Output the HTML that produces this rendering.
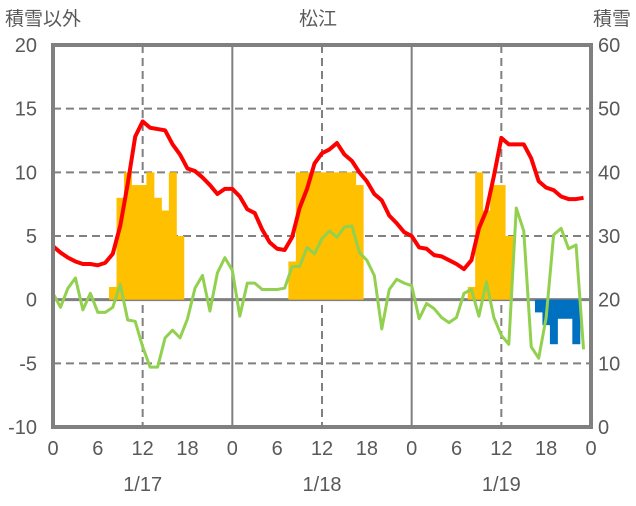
<!DOCTYPE html>
<html><head><meta charset="utf-8"><style>
body{margin:0;background:#fff;}
svg text{font-family:"Liberation Sans","Noto Sans CJK JP",sans-serif;fill:#595959;}
</style></head><body>
<svg id="chart" width="636" height="501" viewBox="0 0 636 501" xmlns="http://www.w3.org/2000/svg">
<g id="grid"></g>
<g id="bars"></g>
<g id="lines"></g>
<g id="frame"></g>
<g id="labels"></g>
<text x="5" y="25" font-size="19">積雪以外</text>
<text x="318" y="25" font-size="19" text-anchor="middle">松江</text>
<text x="631" y="25" font-size="19" text-anchor="end">積雪</text>
</svg>
<script>
const leftTicks=[20,15,10,5,0,-5,-10];
const rightTicks=[60,50,40,30,20,10,0];
const hourTicks=[0,6,12,18,0,6,12,18,0,6,12,18,0];
const dateLabels=['1/17','1/18','1/19'];
const snowHours=[8,9,10,11,12,13,14,15,16,17,32,33,34,35,36,37,38,39,40,41,56,57,58,59,60,61,65,66,67,68,69,70];
const snowValues=[22,36,40,38,38,40,36,34,40,30,26,40,40,40,40,40,40,40,40,38,22,40,34,38,38,30,18,16,13,17,17,13];
const temp=[4.2,3.7,3.3,3.0,2.8,2.8,2.7,2.9,3.6,5.8,9.1,12.8,14.0,13.5,13.4,13.3,12.2,11.4,10.3,10.1,9.6,9.0,8.3,8.7,8.7,8.1,7.1,6.8,5.5,4.5,4.0,3.9,4.9,7.2,8.7,10.7,11.5,11.8,12.3,11.4,10.9,10.0,9.3,8.3,7.8,6.6,6.0,5.3,5.0,4.1,4.0,3.5,3.4,3.1,2.8,2.4,3.1,5.6,7.0,9.7,12.7,12.2,12.2,12.2,11.1,9.3,8.8,8.6,8.1,7.9,7.9,8.0];
const green=[0.5,-0.6,0.9,1.7,-0.8,0.5,-1.0,-1.0,-0.6,1.2,-1.6,-1.7,-3.7,-5.3,-5.3,-3.0,-2.4,-3.0,-1.5,0.9,1.9,-0.9,2.1,3.3,2.3,-1.3,1.3,1.3,0.8,0.8,0.8,0.9,2.6,2.6,4.1,3.6,4.8,5.4,4.9,5.7,5.8,3.7,3.1,1.9,-2.3,0.8,1.6,1.3,1.1,-1.5,-0.3,-0.7,-1.4,-1.8,-1.4,0.5,0.8,-1.3,1.4,-1.4,-2.8,-3.5,7.2,5.4,-3.7,-4.6,-1.4,5.1,5.6,4.0,4.3,-3.9];
const purple=[-10,-10];

const X0=53,X1=591,Y0=45,Y1=427;
const xs=h=>X0+h*(X1-X0)/72;
const yL=v=>Y1-(v+10)*(Y1-Y0)/30;
const yR=s=>Y1-s*(Y1-Y0)/60;
const NS='http://www.w3.org/2000/svg';
function mk(tag,attrs,parent){const e=document.createElementNS(NS,tag);for(const k in attrs)e.setAttribute(k,attrs[k]);parent.appendChild(e);return e;}
const grid=document.getElementById('grid'),bars=document.getElementById('bars'),lines=document.getElementById('lines'),frame=document.getElementById('frame'),labels=document.getElementById('labels');
leftTicks.forEach(v=>{if(v===20||v===-10||v===0)return;const l=mk('line',{x1:X0,x2:X1,y1:yL(v),y2:yL(v),stroke:'#808080','stroke-width':2,'stroke-dasharray':'8,5'},grid);

});
[12,36,60].forEach(h=>{const l=mk('line',{x1:xs(h),x2:xs(h),y1:Y0,y2:Y1,stroke:'#808080','stroke-width':2,'stroke-dasharray':'8,5'},grid);

});
[24,48].forEach(h=>{const l=mk('line',{x1:xs(h),x2:xs(h),y1:Y0,y2:Y1,stroke:'#808080','stroke-width':2},grid);

});
const bw=(X1-X0)/72;
snowHours.forEach((h,i)=>{const s=snowValues[i];const y1=yR(s),y0=yR(20);
const r=mk('rect',{x:xs(h)-bw/2,width:bw+0.5,y:Math.min(y1,y0),height:Math.abs(y1-y0),fill:s>=20?'#FFC000':'#0070C0'},bars);

});
const z=mk('line',{x1:X0,x2:X1,y1:yL(0),y2:yL(0),stroke:'#808080','stroke-width':3},grid);


function poly(arr,color,w,name){const p=mk('polyline',{points:arr.map((v,i)=>xs(i)+','+yL(v)).join(' '),fill:'none',stroke:color,'stroke-width':w,'stroke-linejoin':'round'},lines);

}
poly(green,'#92D050',3,'green-series-line');
poly(temp,'#FF0000',4,'temperature-line');
const pl=mk('line',{x1:xs(0),x2:X1,y1:yL(purple[0]),y2:yL(purple[1]),stroke:'#7030A0','stroke-width':3},lines);


const fr=mk('rect',{x:X0,y:Y0,width:X1-X0,height:Y1-Y0,fill:'none',stroke:'#808080','stroke-width':4},frame);


leftTicks.forEach(v=>{const t=mk('text',{x:37,y:yL(v)+7,'font-size':20,'text-anchor':'end'},labels);t.textContent=v;

});
rightTicks.forEach(v=>{const t=mk('text',{x:598,y:yR(v)+7,'font-size':20},labels);t.textContent=v;

});
hourTicks.forEach((v,i)=>{const t=mk('text',{x:xs(i*6),y:455,'font-size':20,'text-anchor':'middle'},labels);t.textContent=v;

});
dateLabels.forEach((d,i)=>{const t=mk('text',{x:xs(12+24*i),y:491,'font-size':20,'text-anchor':'middle'},labels);t.textContent=d;

});
</script>
</body></html>
